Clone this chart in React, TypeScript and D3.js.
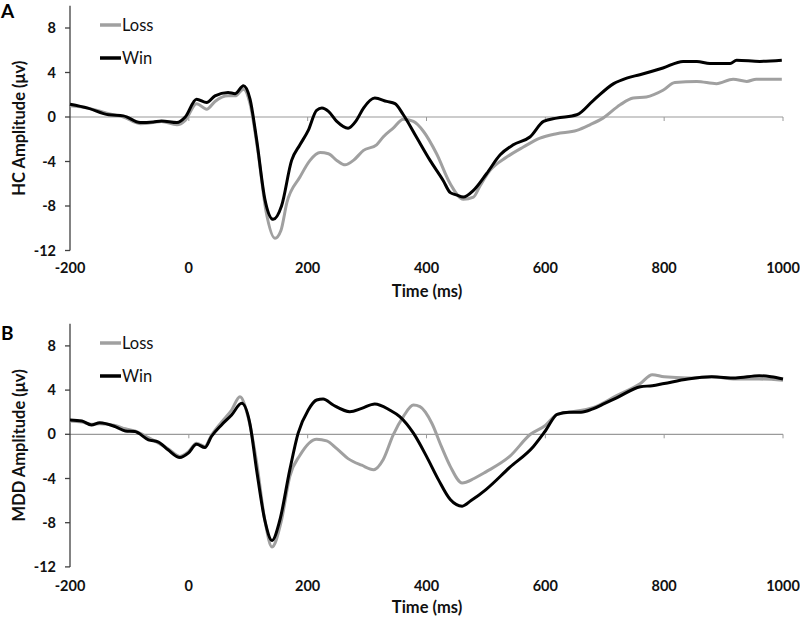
import React from "react";
import * as d3 from "d3";

// time (ms), amplitude (µV)
const hcWin: [number, number][] = [[-200,1.15],[-170,0.8],[-135,0.2],[-110,0.1],[-82,-0.5],[-60,-0.45],[-46,-0.35],[-20,-0.5],[-6,0],[13,1.6],[30,1.3],[44,1.9],[66,2.2],[78,2.1],[92,2.8],[103,1.6],[114,-2.0],[128,-7.4],[142,-9.2],[156,-8.0],[173,-3.9],[187,-2.5],[201,-1.2],[215,0.6],[224,0.8],[235,0.5],[249,-0.4],[268,-1.0],[282,-0.3],[294,0.8],[313,1.7],[333,1.4],[347,1.2],[361,0.2],[383,-1.8],[406,-3.9],[428,-5.7],[440,-6.8],[450,-7.0],[462,-7.2],[479,-6.6],[501,-5.1],[524,-3.4],[546,-2.5],[574,-1.8],[597,-0.4],[619,-0.1],[653,0.2],[681,1.5],[715,3.0],[737,3.5],[759,3.8],[798,4.4],[832,5.0],[855,5.0],[877,4.8],[911,4.8],[922,5.1],[961,5.0],[998,5.1]];
const hcLoss: [number, number][] = [[-200,1.0],[-170,0.8],[-135,0.3],[-110,0.0],[-82,-0.6],[-60,-0.5],[-46,-0.4],[-20,-0.7],[-6,-0.3],[13,1.2],[30,0.7],[44,1.4],[66,1.9],[78,1.9],[92,2.5],[103,1.2],[116,-3.0],[130,-8.5],[145,-10.9],[155,-10.2],[165,-7.7],[187,-5.4],[204,-3.9],[221,-3.2],[235,-3.3],[249,-3.9],[263,-4.3],[277,-3.9],[294,-3.0],[316,-2.5],[327,-1.8],[344,-1.0],[361,-0.2],[378,-0.4],[395,-1.3],[417,-3.3],[440,-6.0],[462,-7.4],[479,-7.2],[490,-6.2],[507,-4.8],[535,-3.6],[563,-2.7],[591,-1.9],[619,-1.5],[653,-1.2],[675,-0.7],[697,-0.1],[726,1.1],[748,1.7],[770,1.8],[798,2.4],[818,3.1],[855,3.2],[888,3.0],[916,3.4],[939,3.2],[955,3.4],[998,3.4]];
const mddWin: [number, number][] = [[-200,1.3],[-180,1.2],[-164,0.85],[-150,1.05],[-124,0.7],[-107,0.3],[-91,0.25],[-68,-0.5],[-51,-0.7],[-35,-1.4],[-15,-2.1],[-1,-1.7],[13,-0.9],[27,-1.2],[38,-0.2],[55,0.85],[72,1.75],[89,2.8],[103,0.9],[114,-3.2],[128,-7.8],[140,-9.6],[153,-7.8],[170,-3.2],[184,0.1],[201,2.2],[215,3.1],[226,3.2],[243,2.65],[271,2.05],[291,2.35],[313,2.75],[338,2.2],[355,1.6],[378,0.1],[400,-2.0],[420,-4.1],[440,-5.9],[460,-6.5],[475,-6.0],[500,-5.0],[540,-3.0],[580,-1.1],[600,0.3],[620,1.8],[640,2.0],[660,2.0],[680,2.3],[700,2.8],[720,3.3],[760,4.3],[780,4.4],[800,4.6],[840,5.0],[880,5.2],[920,5.1],[960,5.3],[980,5.2],[1000,5.0]];
const mddLoss: [number, number][] = [[-200,1.2],[-180,1.1],[-164,0.9],[-150,0.95],[-124,0.8],[-107,0.5],[-91,0.3],[-68,-0.3],[-51,-0.8],[-35,-1.3],[-15,-2.0],[-1,-1.6],[13,-0.8],[27,-1.1],[38,-0.1],[55,1.1],[72,2.2],[86,3.4],[100,1.5],[114,-2.5],[128,-7.8],[140,-10.2],[155,-8.0],[170,-3.8],[187,-1.9],[215,-0.45],[232,-0.6],[249,-1.3],[268,-2.2],[291,-2.8],[311,-3.2],[327,-2.3],[344,-0.05],[361,1.6],[378,2.65],[389,2.5],[409,1.0],[425,-1.1],[440,-2.9],[460,-4.4],[480,-4.0],[500,-3.4],[540,-2.0],[575,0.0],[600,0.8],[620,1.8],[640,2.0],[680,2.4],[720,3.5],[760,4.6],[780,5.4],[800,5.2],[840,5.1],[880,5.2],[920,5.0],[960,5.0],[1000,4.9]];

const xTicks = [-200, 0, 200, 400, 600, 800, 1000];
const yTicks = [8, 4, 0, -4, -8, -12];
const seriesNames = ["Loss", "Win"];

const FONT = "Lato, 'Open Sans', sans-serif";
const LOSS = "#a0a0a0";
const WIN = "#000000";
const AXIS = "#404040";

type PanelProps = {
  letter: string;
  ylabel: string;
  zeroY: number;
  unit: number;
  win: [number, number][];
  loss: [number, number][];
  labelY: number;
  titleY: number;
  legendY: [number, number];
  letterY: number;
};

function Panel(p: PanelProps) {
  const x = d3.scaleLinear().domain([-200, 1000]).range([70, 783]);
  const y = d3.scaleLinear().domain([0, 10]).range([p.zeroY, p.zeroY - 10 * p.unit]);
  const line = d3
    .line<[number, number]>()
    .x((d) => x(d[0]))
    .y((d) => y(d[1]))
    .curve(d3.curveMonotoneX);
  const yTop = y(10);
  const yBot = y(-12);
  const midY = (yTop + yBot) / 2;
  return (
    <g>
      <text x={1} y={p.letterY} fontFamily={FONT} fontWeight="bold" fontSize={19}>{p.letter}</text>
      <line x1={70} x2={783} y1={y(0)} y2={y(0)} stroke="#9a9a9a" strokeWidth={1.2} />
      {xTicks.slice(1).map((t) => (
        <line key={t} x1={x(t)} x2={x(t)} y1={y(0)} y2={y(0) + 4} stroke="#9a9a9a" strokeWidth={1} />
      ))}
      <line x1={70} x2={70} y1={yTop} y2={yBot} stroke={AXIS} strokeWidth={1.3} />
      {yTicks.map((v) => (
        <g key={v}>
          <line x1={65} x2={70} y1={y(v)} y2={y(v)} stroke={AXIS} strokeWidth={1.3} />
          <text x={56} y={y(v)} dy="0.35em" textAnchor="end" fontFamily={FONT} fontWeight="bold" fontSize={14.5} fill="#111">{v}</text>
        </g>
      ))}
      {xTicks.map((t) => (
        <text key={t} x={x(t)} y={p.labelY} dy="0.35em" textAnchor="middle" fontFamily={FONT} fontWeight="bold" fontSize={14.5} fill="#111">{t}</text>
      ))}
      <text x={427} y={p.titleY} dy="0.35em" textAnchor="middle" fontFamily={FONT} fontWeight="bold" fontSize={16.5} fill="#111">Time (ms)</text>
      <text transform={`translate(19,${midY}) rotate(-90)`} dy="0.35em" textAnchor="middle" fontFamily={FONT} fontWeight="bold" fontSize={16.5} fill="#111">{p.ylabel}</text>
      <path d={line(p.loss) || ""} fill="none" stroke={LOSS} strokeWidth={3} strokeLinejoin="round" />
      <path d={line(p.win) || ""} fill="none" stroke={WIN} strokeWidth={3} strokeLinejoin="round" />
      {seriesNames.map((n, i) => (
        <g key={n}>
          <line x1={100} x2={121} y1={p.legendY[i]} y2={p.legendY[i]} stroke={i === 0 ? LOSS : WIN} strokeWidth={3.5} />
          <text x={122} y={p.legendY[i]} dy="0.35em" fontFamily={FONT} fontSize={16.5} fill="#111">{n}</text>
        </g>
      ))}
    </g>
  );
}

export default function App() {
  return (
    <svg width={800} height={618} style={{ position: "absolute", left: 0, top: 0, background: "#fff" }}>
      <rect width={800} height={618} fill="#fff" />
      <Panel letter="A" ylabel="HC Amplitude (μv)" zeroY={117} unit={11.125} win={hcWin} loss={hcLoss} labelY={268} titleY={291} legendY={[25, 58]} letterY={18} />
      <Panel letter="B" ylabel="MDD Amplitude (μv)" zeroY={434.3} unit={11.05} win={mddWin} loss={mddLoss} labelY={586} titleY={607} legendY={[343, 376]} letterY={340} />
    </svg>
  );
}
